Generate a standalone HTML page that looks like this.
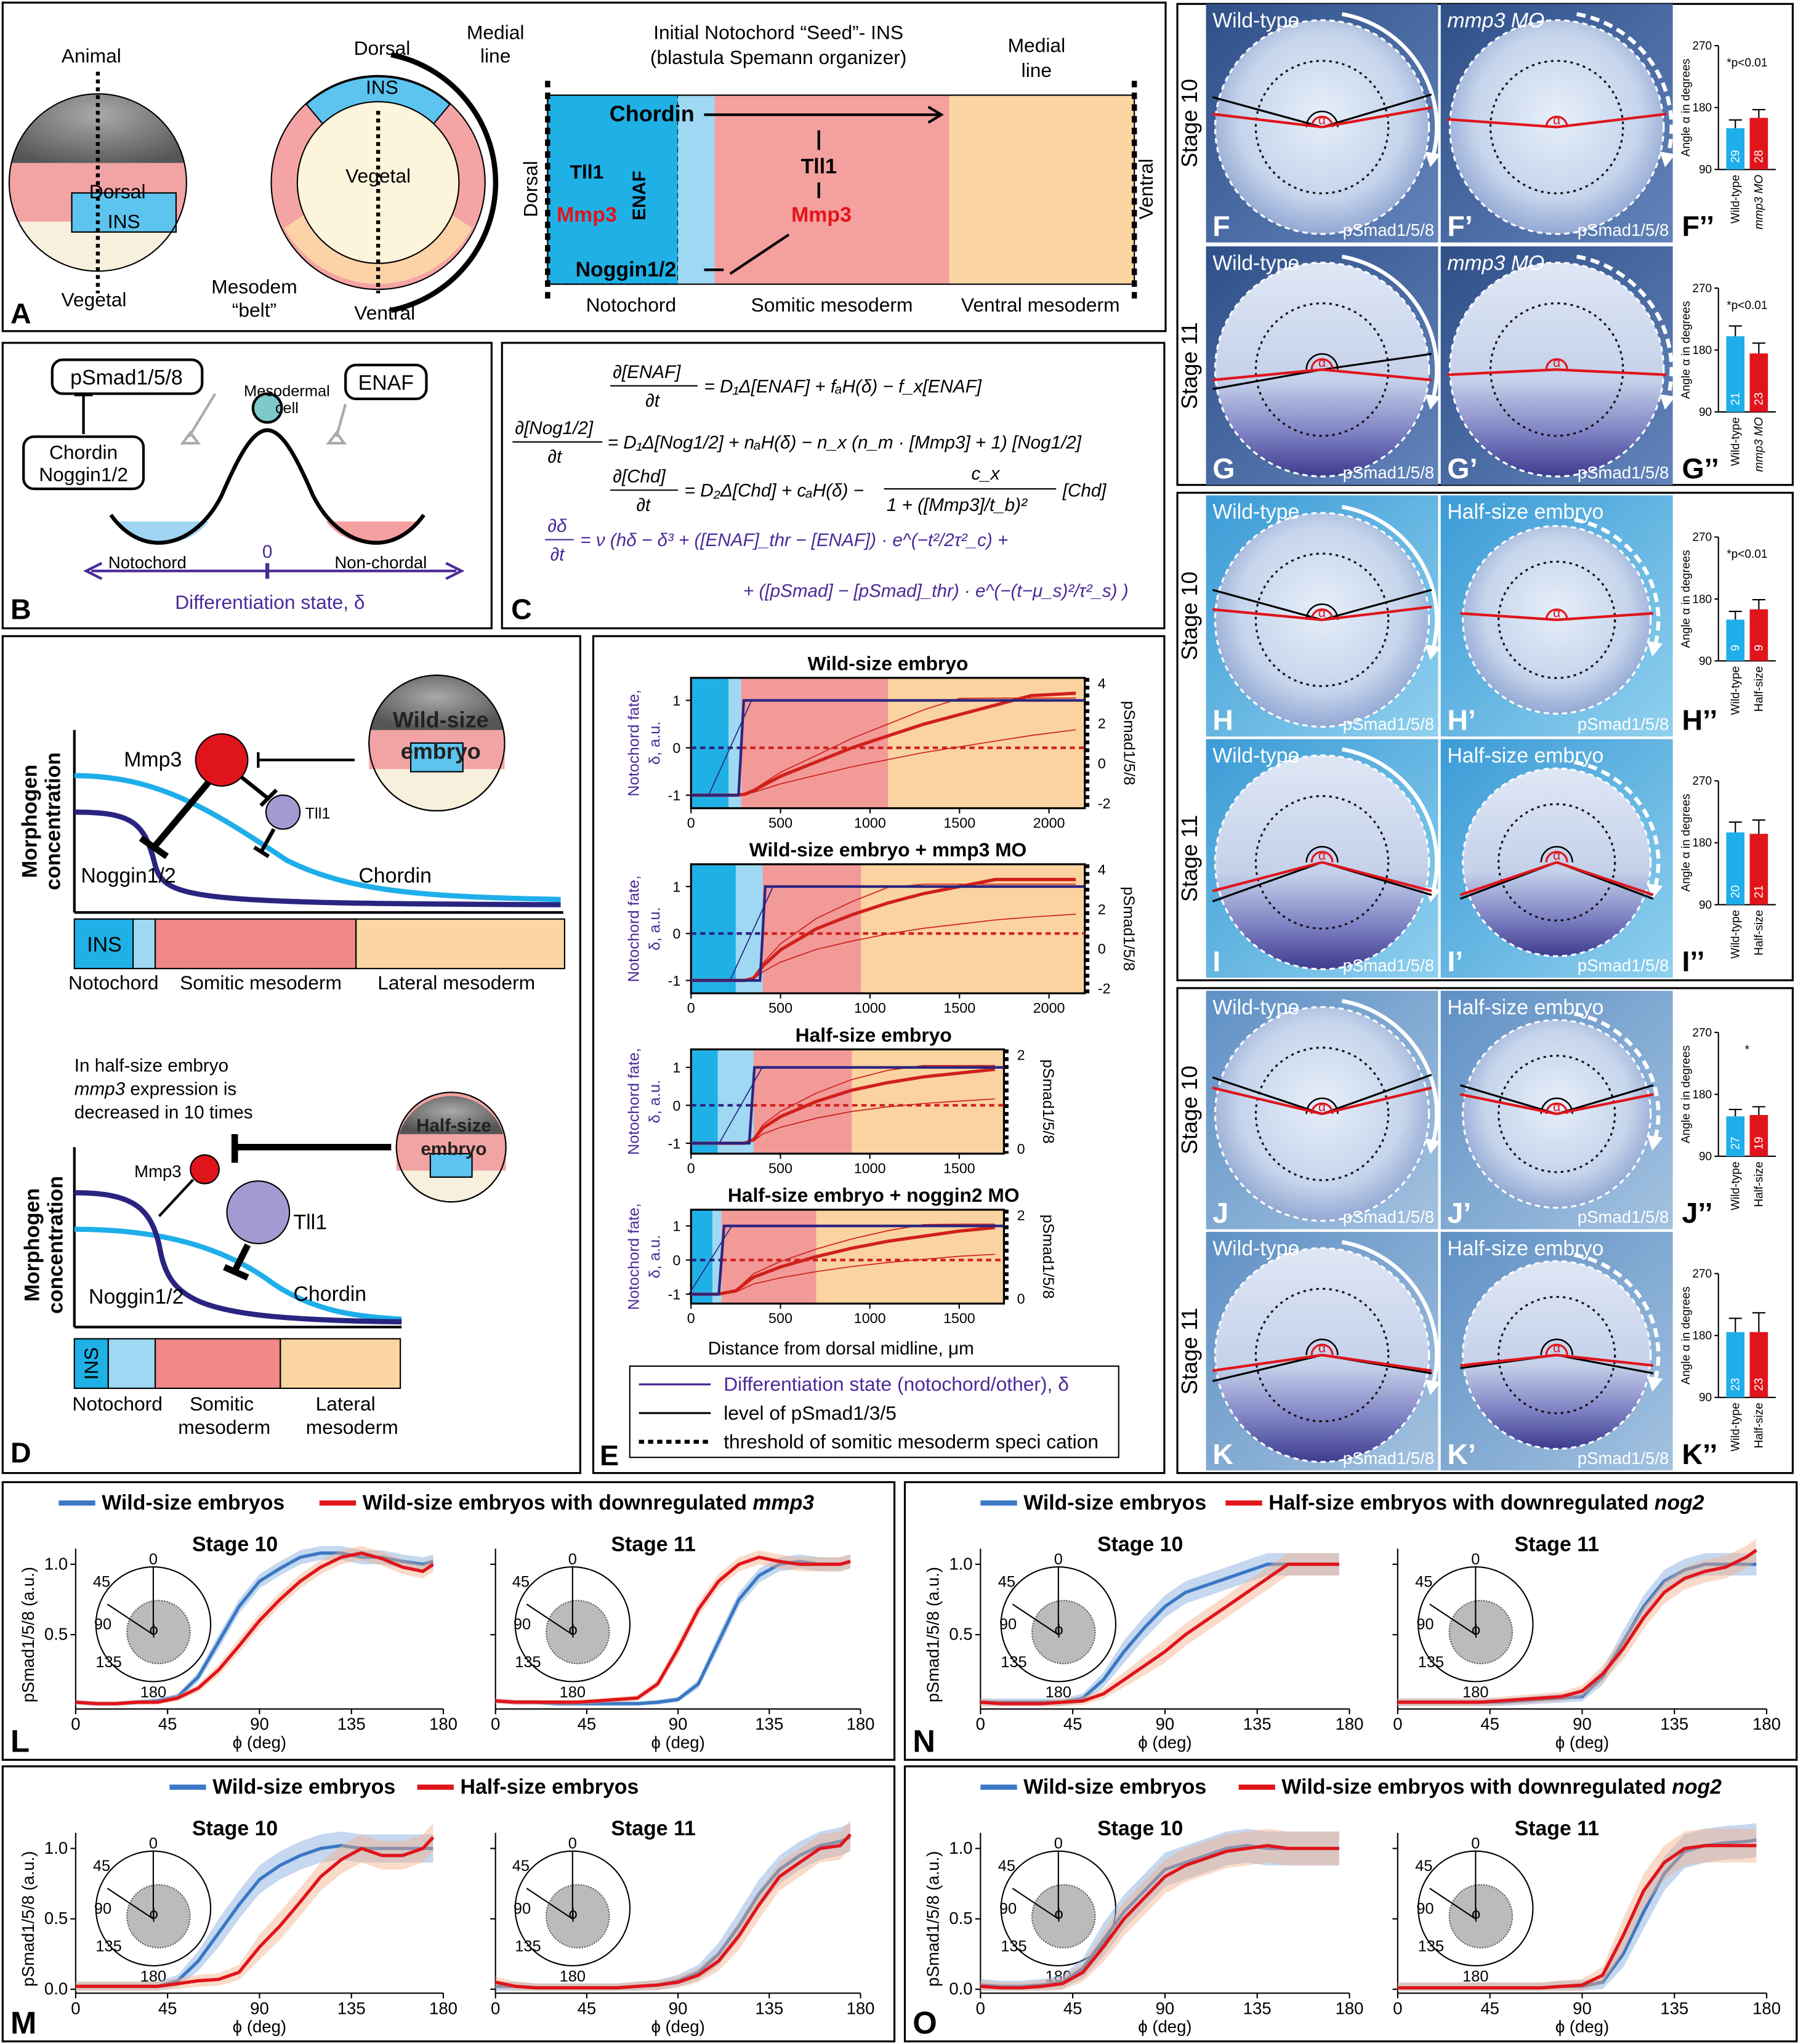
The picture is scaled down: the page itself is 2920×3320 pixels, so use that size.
<!DOCTYPE html>
<html><head><meta charset="utf-8"><style>
html,body{margin:0;padding:0;background:#fff}
svg{display:block}
text{font-family:"Liberation Sans",sans-serif}
</style></head><body>
<svg id="fig" xmlns="http://www.w3.org/2000/svg" width="2920" height="3320" viewBox="0 0 1379 1568">
<defs>
<radialGradient id="gSpeck" cx="50%" cy="40%" r="60%"><stop offset="0" stop-color="#aaa"/><stop offset="1" stop-color="#555"/></radialGradient>
<radialGradient id="emb1" cx="50%" cy="45%" r="55%"><stop offset="0" stop-color="#e6eef9"/><stop offset="0.7" stop-color="#c6d5ec"/><stop offset="1" stop-color="#93a8d4"/></radialGradient>
<linearGradient id="emb2" x1="0" y1="0" x2="0" y2="1"><stop offset="0" stop-color="#dfe7f5"/><stop offset="0.55" stop-color="#c5d1ea"/><stop offset="0.8" stop-color="#7d80c2"/><stop offset="1" stop-color="#3d3b8f"/></linearGradient>
<linearGradient id="bgF" x1="0" y1="0" x2="1" y2="1"><stop offset="0" stop-color="#2f4f88"/><stop offset="1" stop-color="#6384bb"/></linearGradient>
<linearGradient id="bgH" x1="0" y1="0" x2="1" y2="1"><stop offset="0" stop-color="#3b9bd6"/><stop offset="1" stop-color="#8fd0ee"/></linearGradient>
<linearGradient id="bgJ" x1="0" y1="0" x2="1" y2="1"><stop offset="0" stop-color="#5f90c4"/><stop offset="1" stop-color="#a3c2e0"/></linearGradient>
<clipPath id="sphA"><circle cx="75" cy="140" r="68"/></clipPath>
</defs>

<!-- PANEL A -->
<g>
<rect x="2" y="2" width="892" height="252" fill="none" stroke="#000" stroke-width="1.5"/>
<g clip-path="url(#sphA)">
<rect x="0" y="60" width="150" height="70" fill="url(#gSpeck)"/>
<rect x="0" y="125" width="150" height="45" fill="#f2a4a4"/>
<rect x="0" y="170" width="150" height="50" fill="#f6f0dc"/>
</g>
<rect x="55" y="148" width="80" height="30" fill="#5cc4ef" stroke="#000"/>
<circle cx="75" cy="140" r="68" fill="none" stroke="#000"/>
<line x1="75" y1="55" x2="75" y2="225" stroke="#000" stroke-width="3" stroke-dasharray="3,3"/>
<text x="70" y="48" font-size="15" text-anchor="middle">Animal</text>
<text x="90" y="152" font-size="15" text-anchor="middle">Dorsal</text>
<text x="95" y="175" font-size="15" text-anchor="middle">INS</text>
<text x="72" y="235" font-size="15" text-anchor="middle">Vegetal</text>
<circle cx="290" cy="140" r="82" fill="#f4a4a4" stroke="#000"/>
<path d="M218,175 A82,82 0 0 0 362,175 L340,160 A62,62 0 0 1 240,160Z" fill="#fbd3a6"/>
<path d="M235,80 A82,82 0 0 1 345,80 L330,98 A62,62 0 0 0 250,98Z" fill="#5cc4ef" stroke="#000"/>
<circle cx="290" cy="140" r="62" fill="#fdf4dc" stroke="#000"/>
<path d="M300,42 A100,100 0 0 1 300,238" fill="none" stroke="#000" stroke-width="4"/>
<line x1="290" y1="85" x2="290" y2="225" stroke="#000" stroke-width="3" stroke-dasharray="3,3"/>
<text x="293" y="42" font-size="15" text-anchor="middle">Dorsal</text>
<text x="293" y="72" font-size="15" text-anchor="middle">INS</text>
<text x="290" y="140" font-size="15" text-anchor="middle">Vegetal</text>
<text x="295" y="245" font-size="15" text-anchor="middle">Ventral</text>
<text x="380" y="30" font-size="15" text-anchor="middle">Medial</text>
<text x="380" y="48" font-size="15" text-anchor="middle">line</text>
<text x="195" y="225" font-size="15" text-anchor="middle">Mesodem</text>
<text x="195" y="243" font-size="15" text-anchor="middle">“belt”</text>
<text x="8" y="248" font-size="22" font-weight="bold">A</text>
<text x="597" y="30" font-size="15" text-anchor="middle">Initial Notochord “Seed”- INS</text>
<text x="597" y="49" font-size="15" text-anchor="middle">(blastula Spemann organizer)</text>
<text x="795" y="40" font-size="15" text-anchor="middle">Medial</text>
<text x="795" y="59" font-size="15" text-anchor="middle">line</text>
<rect x="420" y="73" width="100" height="145" fill="#1fb1e6" stroke="#000" stroke-dasharray="4,3"/>
<rect x="520" y="73" width="28" height="145" fill="#9ed8f3"/>
<rect x="548" y="73" width="180" height="145" fill="#f4a09e"/>
<rect x="728" y="73" width="142" height="145" fill="#fbd5a2"/>
<rect x="420" y="73" width="450" height="145" fill="none" stroke="#000"/>
<line x1="420" y1="62" x2="420" y2="230" stroke="#000" stroke-width="4" stroke-dasharray="5,4"/>
<line x1="870" y1="62" x2="870" y2="230" stroke="#000" stroke-width="4" stroke-dasharray="5,4"/>
<text x="500" y="93" font-size="17" font-weight="bold" text-anchor="middle">Chordin</text>
<line x1="540" y1="88" x2="720" y2="88" stroke="#000" stroke-width="2"/>
<path d="M712,82 L722,88 L712,94" fill="none" stroke="#000" stroke-width="2"/>
<text x="450" y="137" font-size="15" font-weight="bold" text-anchor="middle">Tll1</text>
<text x="450" y="170" font-size="16" font-weight="bold" fill="#e3141b" text-anchor="middle">Mmp3</text>
<text x="480" y="212" font-size="16" font-weight="bold" text-anchor="middle">Noggin1/2</text>
<text x="495" y="150" font-size="14" font-weight="bold" text-anchor="middle" transform="rotate(-90 495 150)">ENAF</text>
<text x="628" y="133" font-size="16" font-weight="bold" text-anchor="middle">Tll1</text>
<text x="630" y="170" font-size="16" font-weight="bold" fill="#e3141b" text-anchor="middle">Mmp3</text>
<line x1="540" y1="207" x2="555" y2="207" stroke="#000" stroke-width="2"/>
<line x1="560" y1="210" x2="605" y2="180" stroke="#000" stroke-width="2"/>
<line x1="628" y1="115" x2="628" y2="100" stroke="#000" stroke-width="2"/>
<line x1="628" y1="140" x2="628" y2="152" stroke="#000" stroke-width="2"/>
<text x="412" y="145" font-size="15" text-anchor="middle" transform="rotate(-90 412 145)">Dorsal</text>
<text x="884" y="145" font-size="15" text-anchor="middle" transform="rotate(-90 884 145)">Ventral</text>
<text x="484" y="239" font-size="15" text-anchor="middle">Notochord</text>
<text x="638" y="239" font-size="15" text-anchor="middle">Somitic mesoderm</text>
<text x="798" y="239" font-size="15" text-anchor="middle">Ventral mesoderm</text>
</g>

<!-- PANEL B -->
<g>
<rect x="2" y="263" width="375" height="219" fill="none" stroke="#000" stroke-width="1.5"/>
<path d="M90,400 C110,425 145,420 160,400Z" fill="#9fd5f2"/>
<path d="M250,400 C265,420 300,425 320,400Z" fill="#f5a0a0"/>
<path d="M85,395 C110,430 150,420 170,380 C185,345 195,330 205,330 C215,330 225,345 240,380 C260,420 300,430 325,395" fill="none" stroke="#000" stroke-width="3"/>
<circle cx="205" cy="313" r="11" fill="#7fc9c9" stroke="#000" stroke-width="2"/>
<line x1="70" y1="438" x2="350" y2="438" stroke="#4b2a97" stroke-width="2"/>
<path d="M78,432 L66,438 L78,444 M342,432 L354,438 L342,444" fill="none" stroke="#4b2a97" stroke-width="2"/>
<line x1="205" y1="432" x2="205" y2="444" stroke="#4b2a97" stroke-width="3"/>
<text x="205" y="428" font-size="14" fill="#4b2a97" text-anchor="middle">0</text>
<text x="113" y="436" font-size="13" text-anchor="middle">Notochord</text>
<text x="292" y="436" font-size="13" text-anchor="middle">Non-chordal</text>
<text x="207" y="467" font-size="15" fill="#4b2a97" text-anchor="middle">Differentiation state, δ</text>
<rect x="40" y="276" width="115" height="26" rx="8" fill="#fff" stroke="#000" stroke-width="2"/>
<text x="97" y="295" font-size="16" text-anchor="middle">pSmad1/5/8</text>
<rect x="18" y="335" width="92" height="40" rx="8" fill="#fff" stroke="#000" stroke-width="2"/>
<text x="64" y="352" font-size="15" text-anchor="middle">Chordin</text>
<text x="64" y="369" font-size="15" text-anchor="middle">Noggin1/2</text>
<line x1="64" y1="303" x2="64" y2="333" stroke="#000" stroke-width="2"/>
<line x1="57" y1="303" x2="71" y2="303" stroke="#000" stroke-width="2"/>
<rect x="265" y="280" width="62" height="26" rx="8" fill="#fff" stroke="#000" stroke-width="2"/>
<text x="296" y="299" font-size="16" text-anchor="middle">ENAF</text>
<text x="220" y="304" font-size="12" text-anchor="middle">Mesodermal</text>
<text x="220" y="317" font-size="12" text-anchor="middle">cell</text>
<path d="M165,302 L145,335 M140,340 l12,0 l-6,-8z" fill="none" stroke="#aaa" stroke-width="2"/>
<path d="M265,310 L258,335 M252,340 l12,0 l-6,-8z" fill="none" stroke="#aaa" stroke-width="2"/>
<text x="8" y="475" font-size="22" font-weight="bold">B</text>
</g>

<!-- PANEL C -->
<g font-style="italic">
<rect x="385" y="263" width="508" height="219" fill="none" stroke="#000" stroke-width="1.5"/>
<g font-size="14">
<text x="470" y="290" font-family="Liberation Serif">∂[ENAF]</text><line x1="468" y1="296" x2="535" y2="296" stroke="#000"/><text x="495" y="312" font-family="Liberation Serif">∂t</text>
<text x="540" y="301" font-family="Liberation Serif">= D₁Δ[ENAF] + fₐH(δ) − f_x[ENAF]</text>
<text x="395" y="333" font-family="Liberation Serif">∂[Nog1/2]</text><line x1="393" y1="339" x2="462" y2="339" stroke="#000"/><text x="420" y="355" font-family="Liberation Serif">∂t</text>
<text x="466" y="344" font-family="Liberation Serif">= D₁Δ[Nog1/2] + nₐH(δ) − n_x (n_m · [Mmp3] + 1) [Nog1/2]</text>
<text x="470" y="370" font-family="Liberation Serif">∂[Chd]</text><line x1="468" y1="376" x2="520" y2="376" stroke="#000"/><text x="488" y="392" font-family="Liberation Serif">∂t</text>
<text x="525" y="381" font-family="Liberation Serif">= D₂Δ[Chd] + cₐH(δ) −</text>
<text x="745" y="368" font-family="Liberation Serif">c_x</text><line x1="678" y1="375" x2="810" y2="375" stroke="#000"/>
<text x="680" y="392" font-family="Liberation Serif">1 + ([Mmp3]/t_b)²</text><text x="815" y="381" font-family="Liberation Serif">[Chd]</text>
<g fill="#4b2a97">
<text x="420" y="408" font-family="Liberation Serif">∂δ</text><line x1="418" y1="414" x2="440" y2="414" stroke="#4b2a97"/><text x="422" y="430" font-family="Liberation Serif">∂t</text>
<text x="445" y="419" font-family="Liberation Serif">= ν (hδ − δ³ + ([ENAF]_thr − [ENAF]) · e^(−t²/2τ²_c)   +</text>
<text x="570" y="458" font-family="Liberation Serif">+   ([pSmad] − [pSmad]_thr) · e^(−(t−μ_s)²/τ²_s) )</text>
</g></g>
<text x="392" y="475" font-size="22" font-weight="bold" font-style="normal">C</text>
</g>

<!-- PANEL D -->
<g>
<rect x="2" y="488" width="443" height="642" fill="none" stroke="#000" stroke-width="1.5"/>
<line x1="57" y1="560" x2="57" y2="700" stroke="#000" stroke-width="2"/>
<line x1="57" y1="700" x2="432" y2="700" stroke="#000" stroke-width="2"/>
<text x="28" y="630" font-size="16" font-weight="bold" text-anchor="middle" transform="rotate(-90 28 630)">Morphogen</text>
<text x="46" y="630" font-size="16" font-weight="bold" text-anchor="middle" transform="rotate(-90 46 630)">concentration</text>
<path d="M57,595 C120,595 160,620 220,660 C270,685 330,688 430,690" fill="none" stroke="#1eaeea" stroke-width="4"/>
<path d="M57,623 C100,623 110,630 118,660 C125,690 135,693 430,694" fill="none" stroke="#2a2480" stroke-width="4"/>
<circle cx="170" cy="583" r="20" fill="#e0141b" stroke="#000"/>
<circle cx="217" cy="623" r="13" fill="#a29bd1" stroke="#000"/>
<text x="95" y="588" font-size="16">Mmp3</text>
<text x="234" y="628" font-size="12">Tll1</text>
<text x="62" y="677" font-size="16">Noggin1/2</text>
<text x="275" y="677" font-size="16">Chordin</text>
<line x1="160" y1="600" x2="118" y2="650" stroke="#000" stroke-width="5"/><line x1="108" y1="643" x2="128" y2="657" stroke="#000" stroke-width="5"/>
<line x1="185" y1="596" x2="205" y2="612" stroke="#000" stroke-width="3"/><line x1="200" y1="618" x2="212" y2="606" stroke="#000" stroke-width="3"/>
<line x1="210" y1="636" x2="200" y2="654" stroke="#000" stroke-width="3"/><line x1="195" y1="650" x2="206" y2="657" stroke="#000" stroke-width="3"/>
<line x1="198" y1="583" x2="272" y2="583" stroke="#000" stroke-width="2"/><line x1="198" y1="577" x2="198" y2="589" stroke="#000" stroke-width="2"/>
<circle cx="335" cy="570" r="52" fill="#f6f0dc" stroke="#000"/>
<path d="M283,570 A52,52 0 0 1 387,570 L387,590 L283,590Z" fill="#f2a4a4"/>
<path d="M284,560 A52,52 0 0 1 386,560Z" fill="url(#gSpeck)"/>
<rect x="315" y="570" width="40" height="22" fill="#5cc4ef" stroke="#000"/>
<circle cx="335" cy="570" r="52" fill="none" stroke="#000"/>
<text x="338" y="558" font-size="17" font-weight="bold" text-anchor="middle" fill="#222">Wild-size</text>
<text x="338" y="582" font-size="17" font-weight="bold" text-anchor="middle" fill="#222">embryo</text>
<rect x="57" y="705" width="45" height="38" fill="#1fb1e6" stroke="#000"/>
<rect x="102" y="705" width="17" height="38" fill="#9ed8f3" stroke="#000"/>
<rect x="119" y="705" width="154" height="38" fill="#f08888" stroke="#000"/>
<rect x="273" y="705" width="160" height="38" fill="#fbd5a2" stroke="#000"/>
<text x="80" y="730" font-size="16" text-anchor="middle">INS</text>
<text x="87" y="759" font-size="15" text-anchor="middle">Notochord</text>
<text x="200" y="759" font-size="15" text-anchor="middle">Somitic mesoderm</text>
<text x="350" y="759" font-size="15" text-anchor="middle">Lateral mesoderm</text>
<text x="57" y="822" font-size="14">In half-size embryo</text>
<text x="57" y="840" font-size="14"><tspan font-style="italic">mmp3</tspan> expression is</text>
<text x="57" y="858" font-size="14">decreased in 10 times</text>
<line x1="57" y1="880" x2="57" y2="1018" stroke="#000" stroke-width="2"/>
<line x1="57" y1="1018" x2="308" y2="1018" stroke="#000" stroke-width="2"/>
<text x="30" y="955" font-size="16" font-weight="bold" text-anchor="middle" transform="rotate(-90 30 955)">Morphogen</text>
<text x="48" y="955" font-size="16" font-weight="bold" text-anchor="middle" transform="rotate(-90 48 955)">concentration</text>
<path d="M57,943 C120,943 170,955 210,985 C240,1005 270,1010 308,1012" fill="none" stroke="#1eaeea" stroke-width="4"/>
<path d="M57,915 C100,915 115,925 122,955 C130,1000 150,1012 308,1014" fill="none" stroke="#2a2480" stroke-width="4"/>
<circle cx="157" cy="897" r="11" fill="#e0141b" stroke="#000"/>
<circle cx="198" cy="930" r="24" fill="#a29bd1" stroke="#000"/>
<text x="103" y="903" font-size="13">Mmp3</text>
<text x="225" y="943" font-size="16">Tll1</text>
<text x="68" y="1000" font-size="16">Noggin1/2</text>
<text x="225" y="998" font-size="16">Chordin</text>
<line x1="148" y1="905" x2="122" y2="933" stroke="#000" stroke-width="2"/>
<line x1="190" y1="955" x2="180" y2="975" stroke="#000" stroke-width="5"/><line x1="172" y1="972" x2="190" y2="980" stroke="#000" stroke-width="5"/>
<line x1="180" y1="880" x2="300" y2="880" stroke="#000" stroke-width="5"/><line x1="180" y1="870" x2="180" y2="892" stroke="#000" stroke-width="5"/>
<circle cx="346" cy="880" r="42" fill="#f6f0dc" stroke="#000"/>
<path d="M304,880 A42,42 0 0 1 388,880 L388,898 L304,898Z" fill="#f2a4a4"/>
<path d="M306,870 A42,42 0 0 1 386,870Z" fill="url(#gSpeck)"/>
<rect x="330" y="885" width="32" height="18" fill="#5cc4ef" stroke="#000"/>
<circle cx="346" cy="880" r="42" fill="none" stroke="#000"/>
<text x="348" y="868" font-size="14" font-weight="bold" text-anchor="middle" fill="#222">Half-size</text>
<text x="348" y="886" font-size="14" font-weight="bold" text-anchor="middle" fill="#222">embryo</text>
<rect x="57" y="1027" width="26" height="38" fill="#1fb1e6" stroke="#000"/>
<rect x="83" y="1027" width="36" height="38" fill="#9ed8f3" stroke="#000"/>
<rect x="119" y="1027" width="96" height="38" fill="#f08888" stroke="#000"/>
<rect x="215" y="1027" width="92" height="38" fill="#fbd5a2" stroke="#000"/>
<text x="75" y="1046" font-size="15" text-anchor="middle" transform="rotate(-90 75 1046)">INS</text>
<text x="90" y="1082" font-size="15" text-anchor="middle">Notochord</text>
<text x="170" y="1082" font-size="15" text-anchor="middle">Somitic</text>
<text x="172" y="1100" font-size="15" text-anchor="middle">mesoderm</text>
<text x="265" y="1082" font-size="15" text-anchor="middle">Lateral</text>
<text x="270" y="1100" font-size="15" text-anchor="middle">mesoderm</text>
<text x="8" y="1122" font-size="22" font-weight="bold">D</text>
</g>

<!-- PANEL E container -->
<g id="panelE">
<rect x="455" y="488" width="438" height="642" fill="none" stroke="#000" stroke-width="1.5"/>
<rect x="483" y="1048" width="375" height="70" fill="#fff" stroke="#000"/>
<line x1="490" y1="1062" x2="545" y2="1062" stroke="#4b2a97" stroke-width="1.5"/>
<text x="555" y="1067" font-size="15" fill="#4b2a97">Differentiation state (notochord/other), δ</text>
<line x1="490" y1="1084" x2="545" y2="1084" stroke="#000" stroke-width="1.5"/>
<text x="555" y="1089" font-size="15">level of pSmad1/3/5</text>
<line x1="490" y1="1106" x2="545" y2="1106" stroke="#000" stroke-width="3" stroke-dasharray="4,3"/>
<text x="555" y="1111" font-size="15">threshold of somitic mesoderm speci   cation</text>
<text x="460" y="1124" font-size="22" font-weight="bold">E</text>
<text x="645" y="1039" font-size="14" text-anchor="middle">Distance from dorsal midline, μm</text>
</g>

<g id="imgs"></g>
<g id="lines"></g>
</svg>
<script>
const NS="http://www.w3.org/2000/svg";
const svg=document.getElementById('fig');
function mk(tag,attrs,parent){const e=document.createElementNS(NS,tag);for(const k in attrs)e.setAttribute(k,attrs[k]);(parent||svg).appendChild(e);return e;}
function tx(str,attrs,parent){const e=mk('text',attrs,parent);e.textContent=str;return e;}

/* ---------- Panel E data ---------- */
const eTicksLong=[0,500,1000,1500,2000];
const eTicksShort=[0,500,1000,1500];
const eDist=[0,150,250,300,350,400,500,700,900,1100,1300,1500,1700,1900,2150];
const eSmadWT=[-1,-1,-1,-0.98,-0.9,-0.8,-0.6,-0.3,0,0.25,0.5,0.7,0.9,1.1,1.3];
const eSmadMMP=[-1,-1,-1,-1,-0.95,-0.7,-0.35,0.1,0.4,0.65,0.85,1.0,1.15,1.25,1.35];
const eSmadHalf=[-1,-1,-1,-1,-0.9,-0.6,-0.3,0.1,0.4,0.6,0.75,0.85,0.95,1.0,1.0];
const eSmadNog=[-1,-1,-0.9,-0.7,-0.5,-0.4,-0.2,0.1,0.35,0.55,0.7,0.85,0.95,1.0,1.0];
const eSwitch=[280,400,340,170];
const eZones=[[210,280,1100],[250,400,950],[150,350,900],[120,170,700]];
const eTitles=["Wild-size embryo","Wild-size embryo + mmp3 MO","Half-size embryo","Half-size embryo + noggin2 MO"];
const eSeries=[eSmadWT,eSmadMMP,eSmadHalf,eSmadNog];
const eGeom=[{x0:530,x1:832,yt:520,yb:620,max:2200,ticks:eTicksLong,rt:[4,2,0,-2]},
 {x0:530,x1:832,yt:663,yb:762,max:2200,ticks:eTicksLong,rt:[4,2,0,-2]},
 {x0:530,x1:770,yt:805,yb:885,max:1750,ticks:eTicksShort,rt:[2,0]},
 {x0:530,x1:770,yt:928,yb:1000,max:1750,ticks:eTicksShort,rt:[2,0]}];
const pE=document.getElementById('panelE');
eGeom.forEach((g,i)=>{
  const g2=mk('g',{},pE);
  
  
  const sx=v=>g.x0+(v/g.max)*(g.x1-g.x0);
  const pad=(g.yb-g.yt)*0.1;
  const sy=v=>g.yb-pad-((v+1)/2.2)*(g.yb-g.yt-2*pad);
  const z=eZones[i];
  mk('rect',{x:g.x0,y:g.yt,width:sx(z[0])-g.x0,height:g.yb-g.yt,fill:'#1fb1e6'},g2);
  mk('rect',{x:sx(z[0]),y:g.yt,width:sx(z[1])-sx(z[0]),height:g.yb-g.yt,fill:'#9ed8f3'},g2);
  mk('rect',{x:sx(z[1]),y:g.yt,width:sx(z[2])-sx(z[1]),height:g.yb-g.yt,fill:'#f29a98'},g2);
  mk('rect',{x:sx(z[2]),y:g.yt,width:g.x1-sx(z[2]),height:g.yb-g.yt,fill:'#fbd3a0'},g2);
  mk('rect',{x:g.x0,y:g.yt,width:g.x1-g.x0,height:g.yb-g.yt,fill:'none',stroke:'#000','stroke-width':1.5},g2);
  mk('line',{x1:g.x0,y1:sy(0),x2:sx(eSwitch[i]),y2:sy(0),stroke:'#2a2480','stroke-width':2,'stroke-dasharray':'4,3'},g2);
  mk('line',{x1:sx(eSwitch[i]),y1:sy(0),x2:g.x1,y2:sy(0),stroke:'#d0201a','stroke-width':2,'stroke-dasharray':'4,3'},g2);
  const s=eSeries[i];
  [0.6,1.2].forEach(f=>{
    let d='';eDist.forEach((x,k)=>{if(x>g.max)return;const v=Math.min(1.05,-1+(s[k]+1)*f);d+=(k?'L':'M')+sx(x).toFixed(1)+','+sy(v).toFixed(1);});
    mk('path',{d:d,fill:'none',stroke:'#d0201a','stroke-width':0.8},g2);
  });
  let d='';eDist.forEach((x,k)=>{if(x>g.max)return;d+=(k?'L':'M')+sx(x).toFixed(1)+','+sy(Math.min(s[k],1.15)).toFixed(1);});
  const rp=mk('path',{d:d,fill:'none',stroke:'#d0201a','stroke-width':2.5},g2);
  
  
  const bp=mk('path',{d:`M${g.x0},${sy(-1)}L${sx(eSwitch[i])-2},${sy(-1)}L${sx(eSwitch[i])+2},${sy(1)}L${g.x1},${sy(1)}`,fill:'none',stroke:'#2a2480','stroke-width':2},g2);
  
  
  mk('path',{d:`M${g.x0},${sy(-1)}L${sx(eSwitch[i])-25},${sy(-1)}L${sx(eSwitch[i])+8},${sy(1)}L${g.x1},${sy(1)}`,fill:'none',stroke:'#2a2480','stroke-width':0.8},g2);
  [-1,0,1].forEach(v=>{tx(String(v),{x:g.x0-8,y:sy(v)+4,'font-size':11,'text-anchor':'end'},g2);mk('line',{x1:g.x0-4,y1:sy(v),x2:g.x0,y2:sy(v),stroke:'#000'},g2);});
  g.ticks.forEach(v=>{tx(String(v),{x:sx(v),y:g.yb+15,'font-size':11,'text-anchor':'middle'},g2);mk('line',{x1:sx(v),y1:g.yb,x2:sx(v),y2:g.yb+4,stroke:'#000'},g2);});
  mk('line',{x1:g.x1+2,y1:g.yt,x2:g.x1+2,y2:g.yb,stroke:'#000','stroke-width':3,'stroke-dasharray':'3,3'},g2);
  g.rt.forEach((v,k)=>tx(String(v),{x:g.x1+10,y:g.yt+8+k*(g.yb-g.yt-8)/Math.max(1,g.rt.length-1),'font-size':11},g2));
  tx('pSmad1/5/8',{x:g.x1+30,y:(g.yt+g.yb)/2,'font-size':12,'text-anchor':'middle',transform:`rotate(90 ${g.x1+30} ${(g.yt+g.yb)/2})`},g2);
  tx('Notochord fate,',{x:490,y:(g.yt+g.yb)/2,'font-size':12,fill:'#4b2a97','text-anchor':'middle',transform:`rotate(-90 490 ${(g.yt+g.yb)/2})`},g2);
  tx('δ, a.u.',{x:506,y:(g.yt+g.yb)/2,'font-size':12,fill:'#4b2a97','text-anchor':'middle',transform:`rotate(-90 506 ${(g.yt+g.yb)/2})`},g2);
  tx(eTitles[i],{x:(g.x0+g.x1)/2+(i==2||i==3?20:0),y:g.yt-6,'font-size':15,'font-weight':'bold','text-anchor':'middle'},g2);
});

/* ---------- Embryo image panels F-K ---------- */
const imgs=document.getElementById('imgs');
// angle line endpoints: [blackLeftUp, blackRightUp, redLeftUp, redRightUp] (null = no black)
const rows=[
 {y:3,h:183,bg:'url(#bgF)',grad:'url(#emb1)',labs:['F','F’'],tl:['Wild-type','mmp3 MO'],stage:'Stage 10',ang:[[23,25,10,15],[null,null,6,10]]},
 {y:189,h:183,bg:'url(#bgF)',grad:'url(#emb2)',labs:['G','G’'],tl:['Wild-type','mmp3 MO'],stage:'Stage 11',ang:[[-15,12,-8,-8],[null,null,-4,-4]]},
 {y:380,h:185,bg:'url(#bgH)',grad:'url(#emb1)',labs:['H','H’'],tl:['Wild-type','Half-size embryo'],stage:'Stage 10',ang:[[23,23,8,10],[null,null,5,5]]},
 {y:567,h:183,bg:'url(#bgH)',grad:'url(#emb2)',labs:['I','I’'],tl:['Wild-type','Half-size embryo'],stage:'Stage 11',ang:[[-30,-25,-22,-22],[-28,-28,-25,-25]]},
 {y:760,h:183,bg:'url(#bgJ)',grad:'url(#emb1)',labs:['J','J’'],tl:['Wild-type','Half-size embryo'],stage:'Stage 10',ang:[[28,30,20,20],[22,22,15,15]]},
 {y:945,h:183,bg:'url(#bgJ)',grad:'url(#emb2)',labs:['K','K’'],tl:['Wild-type','Half-size embryo'],stage:'Stage 11',ang:[[-20,-14,-12,-12],[-10,-14,-8,-8]]}];
[[903,3,472,369],[903,378,472,374],[903,758,472,372]].forEach(b=>mk('rect',{x:b[0],y:b[1],width:b[2],height:b[3],fill:'none',stroke:'#000','stroke-width':1.5},imgs));
rows.forEach((r,ri)=>{
  tx(r.stage,{x:918,y:r.y+r.h/2,'font-size':17,'text-anchor':'middle',transform:`rotate(-90 918 ${r.y+r.h/2})`},imgs);
  [925,1105].forEach((x0,k)=>{
    const g=mk('g',{},imgs);
    
    
    const w=178,cx=x0+w/2,cy=r.y+r.h/2+3;
    mk('rect',{x:x0,y:r.y,width:w,height:r.h,fill:r.bg},g);
    const half=(ri>=2&&k==1);
    const R=half?72:82;
    mk('circle',{cx:cx,cy:cy,r:R,fill:r.grad},g);
    mk('circle',{cx:cx,cy:cy,r:R,fill:'none',stroke:'#fff','stroke-width':1.5,'stroke-dasharray':'4,3'},g);
    mk('circle',{cx:cx,cy:cy,r:R*0.62,fill:'none',stroke:'#111','stroke-width':1.5,'stroke-dasharray':'2,3'},g);
    // white arrow arc on right
    const AR=R+6,a0=-80*Math.PI/180,a1=15*Math.PI/180;
    const ax0=cx+AR*Math.cos(a0),ay0=cy+AR*Math.sin(a0),ax1=cx+AR*Math.cos(a1),ay1=cy+AR*Math.sin(a1);
    mk('path',{d:`M${ax0.toFixed(1)},${ay0.toFixed(1)} A${AR},${AR} 0 0 1 ${ax1.toFixed(1)},${ay1.toFixed(1)}`,fill:'none',stroke:'#fff','stroke-width':3,'stroke-dasharray':k?'7,4':'none'},g);
    mk('path',{d:`M${(ax1-6).toFixed(1)},${(ay1-4).toFixed(1)} L${(ax1-2).toFixed(1)},${(ay1+8).toFixed(1)} L${(ax1+6).toFixed(1)},${(ay1-2).toFixed(1)}Z`,fill:'#fff'},g);
    const a=r.ang[k];const L=R+2;
    const ox=cx,oy=cy;
    if(a[0]!==null){
      mk('line',{x1:ox-L,y1:oy-a[0],x2:ox,y2:oy,stroke:'#000','stroke-width':1.5},g);
      mk('line',{x1:ox,y1:oy,x2:ox+L,y2:oy-a[1],stroke:'#000','stroke-width':1.5},g);
      mk('path',{d:`M${ox-12},${oy} A12,12 0 0 1 ${ox+12},${oy}`,fill:'none',stroke:'#000','stroke-width':1.2},g);
    }
    mk('line',{x1:ox-L,y1:oy-a[2],x2:ox,y2:oy,stroke:'#e0141b','stroke-width':2},g);
    mk('line',{x1:ox,y1:oy,x2:ox+L,y2:oy-a[3],stroke:'#e0141b','stroke-width':2},g);
    mk('path',{d:`M${ox-8},${oy} A8,8 0 0 1 ${ox+8},${oy}`,fill:'none',stroke:'#e0141b','stroke-width':1.5},g);
    tx('α',{x:ox,y:oy-2,'font-size':10,fill:'#e0141b','text-anchor':'middle'},g);
    tx(r.tl[k],{x:x0+5,y:r.y+18,'font-size':16,fill:'#fff','font-style':(r.tl[k].startsWith('mmp3')?'italic':'normal')},g);
    tx(r.labs[k],{x:x0+5,y:r.y+r.h-5,'font-size':22,'font-weight':'bold',fill:'#fff'},g);
    tx('pSmad1/5/8',{x:x0+w-3,y:r.y+r.h-5,'font-size':13,fill:'#fff','text-anchor':'end'},g);
  });
});
/* Bar charts F''-K'' */
const barLabels=["F’’","G’’","H’’","I’’","J’’","K’’"];
const barWT=[150,200,150,195,148,185];
const barMut=[165,175,165,193,150,185];
const barErrWT=[12,15,12,15,10,20];
const barErrMut=[12,15,14,20,12,28];
const barN=[[29,28],[21,23],[9,9],[20,21],[27,19],[23,23]];
const barCat=[["Wild-type","mmp3 MO"],["Wild-type","mmp3 MO"],["Wild-type","Half-size"],["Wild-type","Half-size"],["Wild-type","Half-size"],["Wild-type","Half-size"]];
const barTicks=[90,180,270];
rows.forEach((r,i)=>{
  const g=mk('g',{},imgs);
  
  
  const yTop=r.y+32,yBot=r.y+127;
  const sy=v=>yBot-(v-90)/180*(yBot-yTop);
  mk('line',{x1:1318,y1:yTop,x2:1318,y2:yBot,stroke:'#000'},g);
  mk('line',{x1:1318,y1:yBot,x2:1362,y2:yBot,stroke:'#000'},g);
  barTicks.forEach(t=>{mk('line',{x1:1315,y1:sy(t),x2:1318,y2:sy(t),stroke:'#000'},g);tx(String(t),{x:1313,y:sy(t)+3,'font-size':9,'text-anchor':'end'},g);});
  tx('Angle α in degrees',{x:1296,y:(yTop+yBot)/2,'font-size':9,'text-anchor':'middle',transform:`rotate(-90 1296 ${(yTop+yBot)/2})`},g);
  [[barWT[i],barErrWT[i],'#1eaeea',1324],[barMut[i],barErrMut[i],'#e0141b',1342]].forEach((b,k)=>{
    const rc=mk('rect',{x:b[3],y:sy(b[0]),width:14,height:yBot-sy(b[0]),fill:b[2]},g);
    
    
    mk('line',{x1:b[3]+7,y1:sy(b[0]),x2:b[3]+7,y2:sy(b[0]+b[1]),stroke:'#000'},g);
    mk('line',{x1:b[3]+2,y1:sy(b[0]+b[1]),x2:b[3]+12,y2:sy(b[0]+b[1]),stroke:'#000'},g);
    tx(String(barN[i][k]),{x:b[3]+10,y:yBot-10,'font-size':9,fill:'#fff','text-anchor':'middle',transform:`rotate(-90 ${b[3]+10} ${yBot-10})`},g);
    tx(barCat[i][k],{x:b[3]+10,y:yBot+4,'font-size':9,'text-anchor':'end',transform:`rotate(-90 ${b[3]+10} ${yBot+4})`,'font-style':barCat[i][k].startsWith('mmp3')?'italic':'normal'},g);
  });
  if(i!==3&&i!==5){tx(i==4?'*':'*p<0.01',{x:1340,y:yTop+16,'font-size':9,'text-anchor':'middle'},g);}
  tx(barLabels[i],{x:1290,y:r.y+r.h-5,'font-size':22,'font-weight':'bold'},g);
});

/* ---------- Line charts L, M, N, O ---------- */
const phi=[0,10,20,30,40,50,60,70,80,90,100,110,120,130,140,150,160,170,175];
const xTicks=[0,45,90,135,180];
const yTicks=[0.5,1.0];
const L10b=[0.02,0.01,0.01,0.02,0.03,0.06,0.2,0.45,0.7,0.88,0.97,1.05,1.08,1.08,1.05,1.05,1.02,1.0,1.02];
const L10r=[0.02,0.01,0.01,0.02,0.02,0.05,0.12,0.25,0.42,0.6,0.75,0.88,0.98,1.05,1.08,1.04,0.98,0.95,1.0];
const L11b=[0.03,0.02,0.02,0.01,0.01,0.01,0.01,0.01,0.02,0.04,0.15,0.45,0.75,0.92,1.0,1.02,1.0,1.0,1.02];
const L11r=[0.03,0.02,0.02,0.02,0.02,0.03,0.04,0.05,0.15,0.4,0.68,0.88,1.0,1.05,1.02,1.0,1.0,1.0,1.02];
const M10b=[0.02,0.02,0.02,0.02,0.02,0.06,0.2,0.4,0.6,0.78,0.88,0.95,1.0,1.02,1.0,1.0,1.0,1.0,1.0];
const M10r=[0.02,0.02,0.02,0.02,0.02,0.04,0.06,0.07,0.12,0.3,0.45,0.62,0.8,0.92,1.0,0.95,0.95,1.0,1.08];
const M11b=[0.02,0.02,0.01,0.01,0.01,0.01,0.01,0.02,0.03,0.06,0.12,0.25,0.45,0.68,0.85,0.95,1.02,1.05,1.08];
const M11r=[0.05,0.02,0.01,0.01,0.01,0.01,0.01,0.02,0.03,0.05,0.1,0.2,0.38,0.6,0.8,0.9,1.0,1.02,1.1];
const N10b=[0.02,0.02,0.02,0.02,0.02,0.05,0.18,0.38,0.55,0.7,0.8,0.85,0.9,0.95,1.0,1.0,1.0,1.0,1.0];
const N10r=[0.02,0.01,0.01,0.01,0.02,0.03,0.08,0.18,0.28,0.38,0.5,0.6,0.7,0.8,0.9,1.0,1.0,1.0,1.0];
const N11b=[0.02,0.02,0.02,0.02,0.02,0.02,0.03,0.04,0.05,0.06,0.2,0.45,0.7,0.88,0.96,1.0,1.0,1.0,1.0];
const N11r=[0.02,0.02,0.02,0.02,0.02,0.03,0.04,0.05,0.06,0.1,0.22,0.4,0.62,0.8,0.9,0.95,0.98,1.05,1.1];
const O10b=[0.03,0.02,0.02,0.03,0.05,0.15,0.35,0.55,0.7,0.85,0.9,0.95,1.0,1.02,1.0,1.0,1.0,1.0,1.0];
const O10r=[0.02,0.01,0.01,0.02,0.04,0.12,0.3,0.5,0.65,0.8,0.88,0.93,0.98,1.0,1.02,1.0,1.0,1.0,1.0];
const O11b=[0.01,0.01,0.01,0.01,0.01,0.01,0.01,0.01,0.02,0.02,0.05,0.25,0.55,0.82,0.98,1.02,1.04,1.05,1.06];
const O11r=[0.01,0.01,0.01,0.01,0.01,0.01,0.01,0.01,0.02,0.03,0.1,0.38,0.7,0.9,1.0,1.02,1.02,1.02,1.02];
const lineBand=[0.05,0.08,0.1,0.12];
const panels=[
 {lab:'L',box:[2,1137,684,213],leg:['Wild-size embryos','Wild-size embryos with downregulated ','mmp3'],legx:[45,245],y0:1308,y1:1200,subs:[[58,340,L10b,L10r],[380,660,L11b,L11r]],band:0},
 {lab:'N',box:[694,1137,684,213],leg:['Wild-size embryos','Half-size embryos with downregulated ','nog2'],legx:[752,940],y0:1308,y1:1200,subs:[[752,1035,N10b,N10r],[1072,1355,N11b,N11r]],band:1},
 {lab:'M',box:[2,1355,684,211],leg:['Wild-size embryos','Half-size embryos',''],legx:[130,320],y0:1526,y1:1418,subs:[[58,340,M10b,M10r],[380,660,M11b,M11r]],band:2},
 {lab:'O',box:[694,1355,684,211],leg:['Wild-size embryos','Wild-size embryos with downregulated ','nog2'],legx:[752,950],y0:1526,y1:1418,subs:[[752,1035,O10b,O10r],[1072,1355,O11b,O11r]],band:3}];
const linesG=document.getElementById('lines');
panels.forEach(p=>{
  const g=mk('g',{},linesG);
  
  
  mk('rect',{x:p.box[0],y:p.box[1],width:p.box[2],height:p.box[3],fill:'none',stroke:'#000','stroke-width':1.5},g);
  const ly=p.box[1]+21;
  mk('line',{x1:p.legx[0],y1:ly-5,x2:p.legx[0]+28,y2:ly-5,stroke:'#3a78c4','stroke-width':4},g);
  tx(p.leg[0],{x:p.legx[0]+33,y:ly,'font-size':16,'font-weight':'bold'},g);
  mk('line',{x1:p.legx[1],y1:ly-5,x2:p.legx[1]+28,y2:ly-5,stroke:'#e0141b','stroke-width':4},g);
  const t=tx(p.leg[1],{x:p.legx[1]+33,y:ly,'font-size':16,'font-weight':'bold'},g);
  if(p.leg[2]){const ts=document.createElementNS(NS,'tspan');ts.setAttribute('font-style','italic');ts.textContent=p.leg[2];t.appendChild(ts);}
  tx(p.lab,{x:p.box[0]+6,y:p.box[1]+p.box[3]-6,'font-size':24,'font-weight':'bold'},g);
  p.subs.forEach((s,si)=>{
    const sg=mk('g',{},g);
    
    
    const sx=v=>s[0]+v/180*(s[1]-s[0]);
    const sy=v=>p.y0-v*(p.y0-p.y1);
    const icx=sx(38),icy=(p.y0+p.y1)/2-8,ir=44;
    mk('circle',{cx:icx,cy:icy,r:ir,fill:'#fff',stroke:'#000'},sg);
    mk('circle',{cx:icx+4,cy:icy+6,r:ir*0.55,fill:'#bbb',stroke:'#555','stroke-dasharray':'1,1'},sg);
    mk('line',{x1:icx,y1:icy-ir,x2:icx,y2:icy+8,stroke:'#000'},sg);
    mk('line',{x1:icx-ir*0.8,y1:icy-ir*0.35,x2:icx,y2:icy+8,stroke:'#000'},sg);
    tx('0',{x:icx,y:icy-ir-2,'font-size':12,'text-anchor':'middle'},sg);
    tx('45',{x:icx-ir*0.75,y:icy-ir*0.65,'font-size':12,'text-anchor':'end'},sg);
    tx('90',{x:icx-ir+12,y:icy+4,'font-size':12,'text-anchor':'end'},sg);
    tx('135',{x:icx-ir*0.55,y:icy+ir*0.75,'font-size':12,'text-anchor':'end'},sg);
    tx('180',{x:icx,y:icy+ir+12,'font-size':12,'text-anchor':'middle'},sg);
    tx('ϕ',{x:icx-3,y:icy+8,'font-size':12},sg);
    tx('Stage '+(si?11:10),{x:sx(57),y:p.y1-10,'font-size':16,'font-weight':'bold'},sg);
    mk('line',{x1:s[0],y1:p.y1-12,x2:s[0],y2:p.y0+3,stroke:'#000'},sg);
    mk('line',{x1:s[0],y1:p.y0+3,x2:s[1],y2:p.y0+3,stroke:'#000'},sg);
    xTicks.forEach(v=>{mk('line',{x1:sx(v),y1:p.y0+3,x2:sx(v),y2:p.y0+7,stroke:'#000'},sg);tx(String(v),{x:sx(v),y:p.y0+19,'font-size':13,'text-anchor':'middle'},sg);});
    tx('ϕ (deg)',{x:sx(90),y:p.y0+33,'font-size':13,'text-anchor':'middle'},sg);
    if(si==0||p.lab=='M'||p.lab=='O'){
      [0].concat(yTicks).forEach(v=>{if(v===0&&!(p.lab=='M'||p.lab=='O'))return;mk('line',{x1:s[0]-4,y1:sy(v),x2:s[0],y2:sy(v),stroke:'#000'},sg);if(si==0)tx(v.toFixed(1),{x:s[0]-6,y:sy(v)+4,'font-size':13,'text-anchor':'end'},sg);});
      if(si==0)tx('pSmad1/5/8 (a.u.)',{x:s[0]-32,y:(p.y0+p.y1)/2,'font-size':13,'text-anchor':'middle',transform:`rotate(-90 ${s[0]-32} ${(p.y0+p.y1)/2})`},sg);
    } else {yTicks.forEach(v=>mk('line',{x1:s[0]-4,y1:sy(v),x2:s[0],y2:sy(v),stroke:'#000'},sg));}
    const bw=lineBand[p.band];
    [[s[2],'#7fa8dc','#3a78c4','wild-size-line'],[s[3],'#f4b08a','#e0141b','treated-line']].forEach(ser=>{
      let up='',dn='',d='';
      phi.forEach((x,k)=>{up+=(k?'L':'M')+sx(x).toFixed(1)+','+sy(ser[0][k]+bw*Math.min(1,ser[0][k]*2+0.3)).toFixed(1);d+=(k?'L':'M')+sx(x).toFixed(1)+','+sy(ser[0][k]).toFixed(1);});
      for(let k=phi.length-1;k>=0;k--)dn+='L'+sx(phi[k]).toFixed(1)+','+sy(Math.max(-0.01,ser[0][k]-bw*Math.min(1,ser[0][k]*2+0.3))).toFixed(1);
      mk('path',{d:up+dn+'Z',fill:ser[1],opacity:0.45},sg);
      const ln=mk('path',{d:d,fill:'none',stroke:ser[2],'stroke-width':2.5},sg);
      
      
    });
  });
});
</script>
</body></html>
